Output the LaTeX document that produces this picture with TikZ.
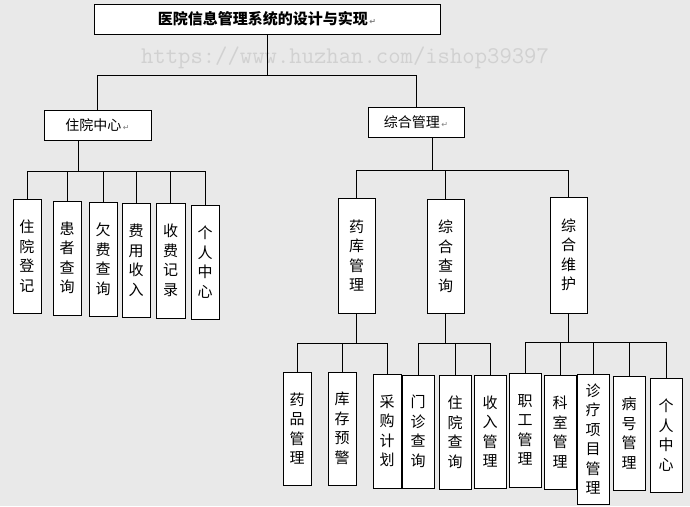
\documentclass[tikz,border=0pt]{standalone}
\usepackage{fontspec}
\setmainfont{Liberation Serif}
\newfontfamily\cjk{Noto Sans CJK SC}
\newfontfamily\dejavu{DejaVu Sans}
\usetikzlibrary{positioning}
\definecolor{bggray}{HTML}{E9E9E9}
\tikzstyle{box}=[draw, fill=white, thick, inner sep=0pt, font=\cjk\fontsize{14}{16}\selectfont]
\tikzstyle{head}=[box, minimum height=30pt]
\tikzstyle{vbox}=[box, align=center, font=\cjk\fontsize{15}{19.5}\selectfont]
\tikzstyle{line}=[draw, thick, black]
\newcommand{\retmark}{{\dejavu\fontsize{8}{8}\selectfont\color{gray}\,↵}}
\begin{document}
\begin{tikzpicture}[x=1pt,y=-1pt]
  \fill[bggray] (0,0) rectangle (690,506);
  \useasboundingbox (0,0) rectangle (690,506);
  % watermark
  \node (wm) at (345,58) [font=\ttfamily\fontsize{24}{24}\selectfont, text=black!18] {https://www.huzhan.com/ishop39397};

  % top levels
  \node (pTitle) at (267,19) [head, minimum width=346pt, font=\cjk\bfseries\fontsize{15}{17}\selectfont] {医院信息管理系统的设计与实现\retmark};
  \node (pWard) at (97.5,125) [head, minimum width=107pt] {住院中心\retmark};
  \node (pAdmin) at (416,122) [head, minimum width=96pt] {综合管理\retmark};

  % left branch
  \node (w1) at (27,256) [vbox, minimum width=28pt, minimum height=114pt] {住\\院\\登\\记};
  \node (w2) at (67,258) [vbox, minimum width=28pt, minimum height=114pt] {患\\者\\查\\询};
  \node (w3) at (103,259) [vbox, minimum width=28pt, minimum height=114pt] {欠\\费\\查\\询};
  \node (w4) at (136,260) [vbox, minimum width=28pt, minimum height=114pt] {费\\用\\收\\入};
  \node (w5) at (170.5,260.5) [vbox, minimum width=29pt, minimum height=115pt] {收\\费\\记\\录};
  \node (w6) at (205,262) [vbox, minimum width=28pt, minimum height=114pt] {个\\人\\中\\心};

  % right branch
  \node (pDrug) at (356.5,255.5) [vbox, minimum width=37pt, minimum height=115pt] {药\\库\\管\\理};
  \node (pQuery) at (445.5,256) [vbox, minimum width=37pt, minimum height=114pt] {综\\合\\查\\询};
  \node (pMaint) at (568.5,255) [vbox, minimum width=37pt, minimum height=116pt] {综\\合\\维\\护};

  \node (d1) at (297,428.5) [vbox, minimum width=28pt, minimum height=113pt] {药\\品\\管\\理};
  \node (d2) at (342,428.5) [vbox, minimum width=28pt, minimum height=113pt] {库\\存\\预\\警};
  \node (d3) at (387,431) [vbox, minimum width=28pt, minimum height=114pt] {采\\购\\计\\划};
  \node (q1) at (418,431.5) [vbox, minimum width=32pt, minimum height=113pt] {门\\诊\\查\\询};
  \node (q2) at (455,432) [vbox, minimum width=32pt, minimum height=114pt] {住\\院\\查\\询};
  \node (q3) at (490,431.5) [vbox, minimum width=32pt, minimum height=113pt] {收\\入\\管\\理};
  \node (m1) at (525,430) [vbox, minimum width=32pt, minimum height=114pt] {职\\工\\管\\理};
  \node (m2) at (560,432) [vbox, minimum width=32pt, minimum height=114pt] {科\\室\\管\\理};
  \node (m3) at (593,439) [vbox, minimum width=32pt, minimum height=130pt] {诊\\疗\\项\\目\\管\\理};
  \node (m4) at (629,433) [vbox, minimum width=32pt, minimum height=114pt] {病\\号\\管\\理};
  \node (m5) at (666,435) [vbox, minimum width=32pt, minimum height=114pt] {个\\人\\中\\心};

  % connectors
  \foreach \c in {pWard,pAdmin}
    \path [line] (pTitle.south) -- ++(0,41) -| (\c.north);
  \foreach \c in {w1,w2,w3,w4,w5,w6}
    \path [line] (pWard.south) ++(-19.5,0) -- ++(0,31) -| (\c.north);
  \foreach \c in {pDrug,pQuery,pMaint}
    \path [line] (pAdmin.south) ++(16,0) -- ++(0,33) -| (\c.north);
  \foreach \c in {d1,d2,d3}
    \path [line] (pDrug.south) -- ++(0,30) -| (\c.north);
  \foreach \c in {q1,q2,q3}
    \path [line] (pQuery.south) -- ++(0,30) -| (\c.north);
  \foreach \c in {m1,m2,m3,m4,m5}
    \path [line] (pMaint.south) -- ++(0,29) -| (\c.north);
\end{tikzpicture}
\end{document}
